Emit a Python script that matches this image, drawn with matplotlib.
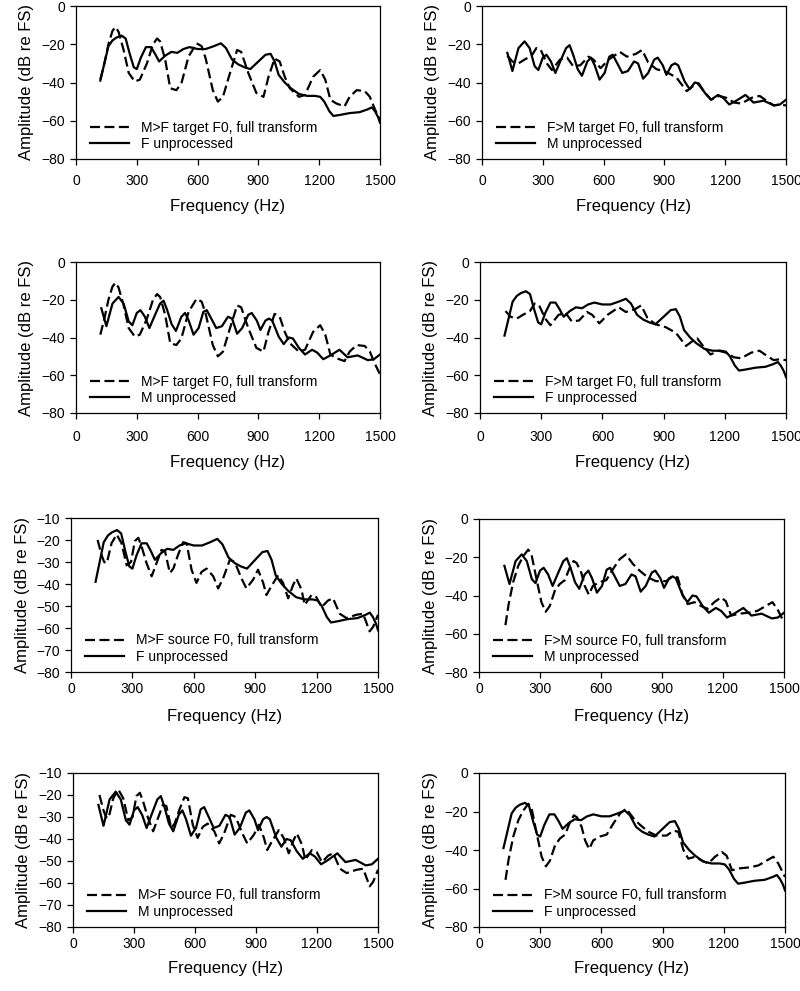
import numpy as np
import matplotlib
matplotlib.use("Agg")
from matplotlib import pyplot as plt

plt.rcParams['font.family'] = ['Liberation Sans', 'DejaVu Sans']

# F unprocessed (solid)
f_un_hz = [120, 140, 160, 180, 200, 225, 245, 265, 285, 300, 320, 345, 370, 390, 410,
           440, 470, 500, 530, 560, 600, 640, 680, 715, 740, 770, 800, 830, 860, 900,
           935, 960, 980, 1000, 1030, 1060, 1100, 1140, 1180, 1205, 1225, 1250, 1270,
           1300, 1350, 1400, 1440, 1460, 1475, 1490, 1500]
f_un_db = [-39, -30, -21, -18, -16.5, -15.5, -17, -25, -32, -33, -27, -21.5, -21.5, -25, -29,
           -26, -24, -24.5, -22.5, -21.5, -22.5, -22.5, -21, -19.5, -22, -28, -30.5, -32, -33, -29,
           -25.5, -25, -29, -36, -40, -43, -46, -47, -47, -47.5, -50, -55, -57.5,
           -57, -56, -55.5, -54, -53, -55, -58, -61]

# M unprocessed (solid)
m_un_hz = [125, 150, 180, 210, 235, 260, 278, 300, 318, 340, 362, 390, 415, 432, 450,
           472, 493, 520, 538, 556, 580, 605, 628, 645, 670, 692, 720, 750, 770, 795,
           820, 850, 867, 892, 910, 935, 952, 968, 1000, 1025, 1050, 1070, 1100, 1130,
           1165, 1190, 1220, 1255, 1300, 1340, 1390, 1440, 1470, 1500]
m_un_db = [-24.5, -34, -22, -18.5, -22, -31.5, -33.5, -27, -25.5, -29, -35, -28, -22, -20.5, -25.5,
           -33, -36.5, -29, -27, -31, -38.5, -35, -26.5, -25.5, -30.5, -35, -34, -29, -30, -38,
           -35, -28, -27, -31, -36, -31, -30, -31, -39.5, -43.5, -40, -40.5, -45.5, -49,
           -46.5, -48, -51.5, -49.5, -46.5, -50.5, -49.5, -52, -51.5, -49]

# M>F target F0, full transform (dashed)
mf_t_hz = [120, 140, 160, 180, 195, 210, 235, 260, 290, 315, 350, 380, 400, 415, 440,
           465, 495, 520, 555, 595, 620, 640, 675, 700, 725, 760, 795, 815, 850, 890,
           925, 950, 980, 1005, 1030, 1055, 1100, 1130, 1170, 1205, 1230, 1255, 1285,
           1325, 1350, 1385, 1425, 1450, 1475, 1500]
mf_t_db = [-38.5, -30, -20, -13, -11, -13.5, -23, -35, -39.5, -38.5, -30, -20, -17, -18.5, -28,
           -43, -44, -40.5, -26.5, -19.5, -21, -27.5, -44, -50, -47.5, -35, -23, -24, -35, -45.5,
           -47.5, -37, -27.5, -29, -37, -43, -47.5, -46.5, -37, -33.5, -38.5, -49, -51,
           -52.5, -47.5, -44, -44.5, -47.5, -54, -59.5]

# F>M target F0, full transform (dashed)
fm_t_hz = [125, 150, 180, 210, 245, 268, 290, 320, 345, 385, 420, 450, 485, 525, 550,
           585, 625, 680, 715, 760, 790, 820, 860, 910, 960, 985, 1010, 1040, 1065, 1090,
           1130, 1170, 1205, 1245, 1280, 1330, 1370, 1410, 1440, 1470, 1500]
fm_t_db = [-26, -29, -30, -28, -26, -22, -23, -30, -33.5, -28, -27, -31.5, -31, -26.5, -28,
           -32.5, -28, -24, -26.5, -25, -23, -29.5, -33, -34.5, -37.5, -41, -44.5, -42, -40.5, -44,
           -49, -47, -48, -50.5, -51, -48, -47, -50, -52, -51.5, -52]

# M>F source F0, full transform (dashed)
mf_s_hz = [130, 150, 162, 175, 198, 223, 247, 272, 293, 312, 329, 345, 369, 394, 418,
           442, 459, 483, 500, 524, 548, 565, 589, 613, 638, 662, 695, 719, 743, 776,
           800, 833, 857, 890, 914, 939, 955, 979, 1012, 1036, 1061, 1085, 1101, 1126,
           1142, 1175, 1199, 1224, 1256, 1280, 1313, 1346, 1394, 1427, 1459, 1476, 1500]
mf_s_db = [-20, -27, -30, -30.5, -21.5, -17.5, -21.5, -31.5, -30, -20.5, -19, -23, -30.5, -36.5, -30.5,
           -24.5, -25, -35, -33, -26.5, -21, -21.5, -33.5, -39.5, -34.5, -33, -36.5, -42, -37.5, -29,
           -30, -37.5, -42, -38, -33.5, -39.5, -45, -41, -36, -39.5, -46.5, -40.5, -37.5, -42.5,
           -49.5, -45, -46, -50.5, -47.5, -46.5, -53.5, -55.5, -54, -53.5, -61.5, -59.5, -54]

# F>M source F0, full transform (dashed)
fm_s_hz = [130, 145, 168, 193, 217, 242, 258, 283, 307, 328, 348, 373, 397, 422, 446,
           465, 480, 503, 520, 540, 560, 593, 626, 660, 692, 722, 757, 790, 830, 870,
           920, 953, 977, 1002, 1026, 1060, 1092, 1124, 1157, 1190, 1214, 1240, 1280,
           1328, 1370, 1410, 1443, 1467, 1500]
fm_s_db = [-55.5, -45, -33, -24.5, -19.5, -16, -18.5, -31.5, -43.5, -48.5, -45.5, -37.5, -34, -32, -25.5,
           -22, -23, -28, -35, -39.5, -35, -33, -32, -26, -21, -18.5, -23.5, -27, -30.5, -32.5,
           -32.5, -30, -30.5, -40, -44.5, -43.5, -45.5, -47, -43.5, -41, -43, -50.5, -49.5,
           -49, -48, -45.5, -43.5, -47, -54]

curves = {
    'f_un': (f_un_hz, f_un_db), 'm_un': (m_un_hz, m_un_db),
    'mf_t': (mf_t_hz, mf_t_db), 'fm_t': (fm_t_hz, fm_t_db),
    'mf_s': (mf_s_hz, mf_s_db), 'fm_s': (fm_s_hz, fm_s_db),
}
labels = {
    'f_un': 'F unprocessed', 'm_un': 'M unprocessed',
    'mf_t': 'M>F target F0, full transform', 'fm_t': 'F>M target F0, full transform',
    'mf_s': 'M>F source F0, full transform', 'fm_s': 'F>M source F0, full transform',
}

# (dashed, solid, ytop) per panel
panels = [('mf_t', 'f_un', 0), ('fm_t', 'm_un', 0),
          ('mf_t', 'm_un', 0), ('fm_t', 'f_un', 0),
          ('mf_s', 'f_un', -10), ('fm_s', 'm_un', 0),
          ('mf_s', 'm_un', -10), ('fm_s', 'f_un', 0)]

W, H = 800, 991
# axes boxes in pixels: left, right, top, bottom
boxes = [(76, 380, 6, 159), (482, 786, 6, 159),
         (76, 380, 262, 413), (480, 786, 262, 413),
         (71, 378, 518, 672), (479, 784, 519, 672),
         (73, 378, 773, 927), (479, 785, 773, 927)]
tick_off = [18, 19, 14, 14]
xlab_off = [48, 50, 44, 42]

fig = plt.figure(figsize=(W / 100, H / 100), dpi=100)
for i, (dk, sk, ytop) in enumerate(panels):
    l, r, t, b = boxes[i]
    ax = fig.add_axes([l / W, 1 - b / H, (r - l) / W, (b - t) / H])
    row = i // 2
    ax.plot(*curves[dk], color='black', lw=1.6, ls=(0, (4.5, 2.0)), label=labels[dk])
    ax.plot(*curves[sk], color='black', lw=1.6, label=labels[sk])
    ax.set_xlim(0, 1500)
    ax.set_ylim(-80, ytop)
    ax.set_xticks(np.arange(0, 1501, 300))
    if ytop == 0:
        ax.set_yticks(np.arange(-80, 1, 20))
    else:
        ax.set_yticks(np.arange(-80, -9, 10))
    for sp in ax.spines.values():
        sp.set_linewidth(0.9)
    ax.tick_params(direction='out', length=4, width=0.9, labelsize=10)
    ax.tick_params(axis='x', pad=tick_off[row] - 11)
    ax.tick_params(axis='y', pad=4)
    ax.set_xlabel('Frequency (Hz)', fontsize=12, va='center')
    ax.xaxis.set_label_coords(0.5, -xlab_off[row] / (b - t))
    ax.set_ylabel('Amplitude (dB re FS)', fontsize=12, va='center')
    ax.yaxis.set_label_coords(-49 / (r - l), 0.5)
    ax.legend(loc='lower left', bbox_to_anchor=(0.045, 0.055), frameon=False,
              fontsize=10, handlelength=2.8, handletextpad=0.9, borderpad=0,
              borderaxespad=0, labelspacing=0.15)

fig.savefig('out.png', dpi=100)
